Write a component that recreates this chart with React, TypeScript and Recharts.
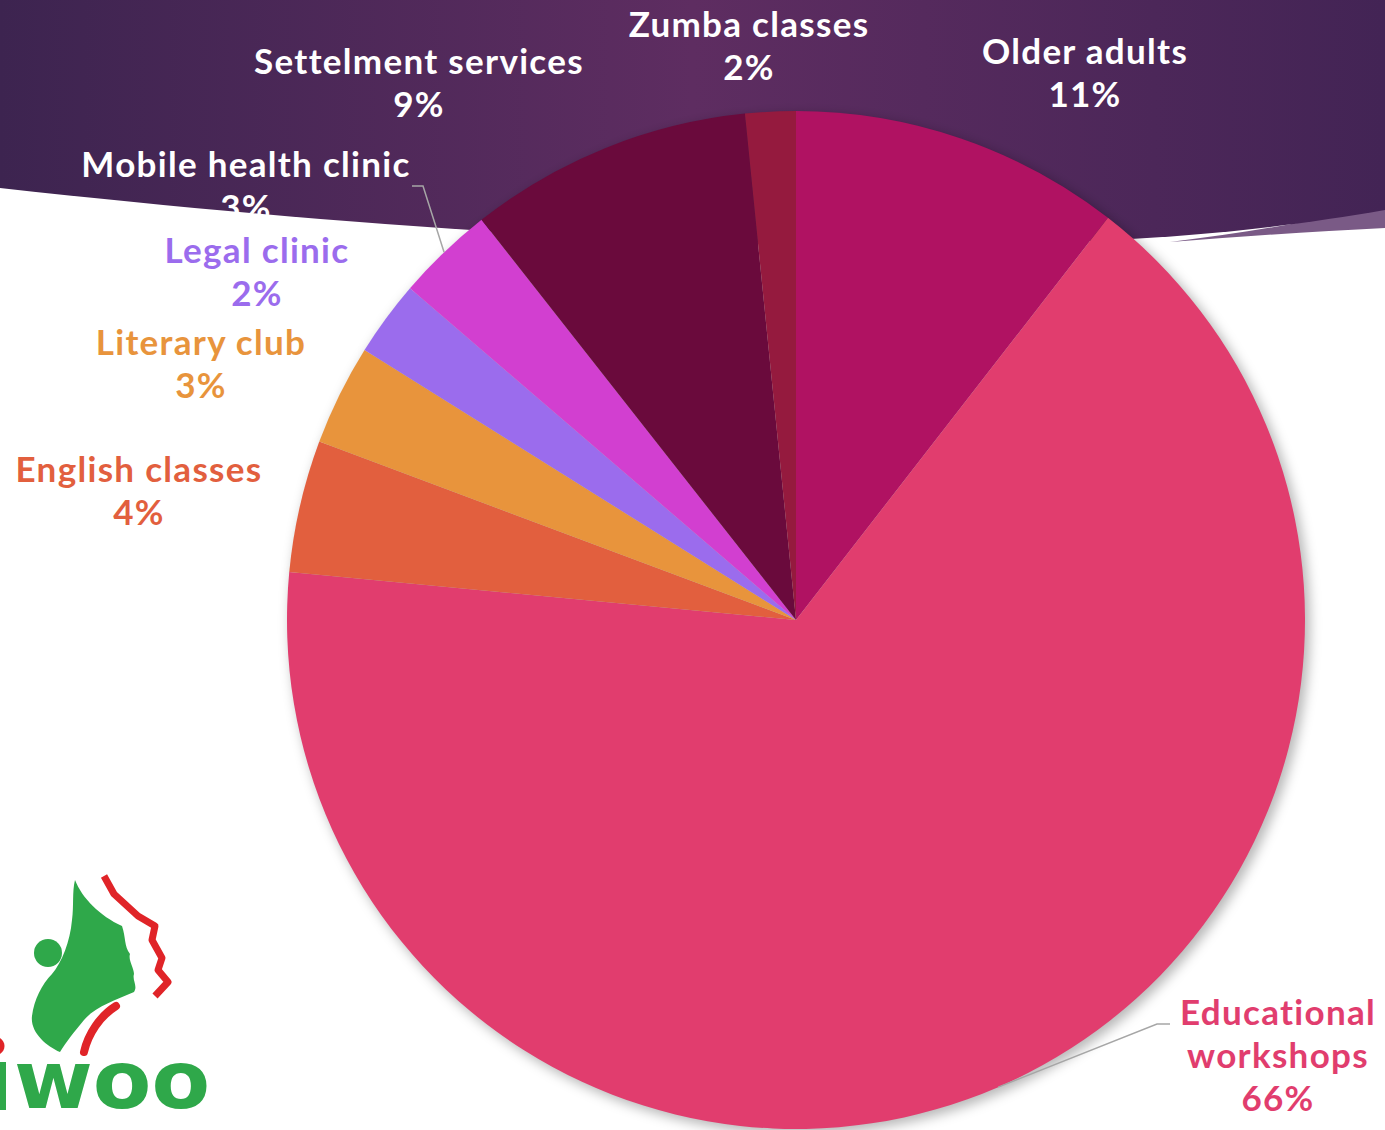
import React from "react"
import { PieChart, Pie, Cell } from "recharts"

const W = 1385
const H = 1130

const programs = [
  "Older adults",
  "Educational workshops",
  "English classes",
  "Literary club",
  "Legal clinic",
  "Mobile health clinic",
  "Settelment services",
  "Zumba classes",
]
const shares = [10.5, 66, 4.2, 3.2, 2.4, 3.1, 9, 1.6]

const sliceColors = ["#b01262", "#e13d6e", "#e25f3e", "#e8943c", "#9b6ced", "#d23fd0", "#6a0a3c", "#951a3e"]
const labelColors = ["#ffffff", "#e13d6e", "#e25f3e", "#e8943c", "#9b6ced", "#ffffff", "#ffffff", "#ffffff"]

// label anchor relative to pie centre (first baseline), optional wrap + leader elbow
const labelLayout = [
  { dx: 289, dy: -556, wrap: false },
  { dx: 482, dy: 405, wrap: true, elbow: [361, 404], end: [374, 404] },
  { dx: -657, dy: -138, wrap: false },
  { dx: -595, dy: -265, wrap: false },
  { dx: -539, dy: -357, wrap: false },
  { dx: -550, dy: -443, wrap: false, elbow: [-373, -434], end: [-384, -434] },
  { dx: -377, dy: -546, wrap: false },
  { dx: -47, dy: -583, wrap: false },
]

const data = programs.map((name, i) => ({ name, value: shares[i] }))

const FONT = "Lato, 'Open Sans', sans-serif"
const LINE = 43
const RAD = Math.PI / 180

const renderLabel = (props: any) => {
  const { cx, cy, midAngle, outerRadius, percent, index, name } = props
  const lay = labelLayout[index]
  const lines = lay.wrap ? name.split(" ") : [name]
  lines.push(`${Math.round(percent * 100)}%`)
  const x = cx + lay.dx
  const y = cy + lay.dy
  let leader = null
  if (lay.elbow) {
    const ex = cx + outerRadius * Math.cos(-midAngle * RAD)
    const ey = cy + outerRadius * Math.sin(-midAngle * RAD)
    leader = (
      <polyline
        points={`${ex},${ey} ${cx + lay.elbow[0]},${cy + lay.elbow[1]} ${cx + lay.end[0]},${cy + lay.end[1]}`}
        fill="none"
        stroke="#a6a6a6"
        strokeWidth={1.5}
      />
    )
  }
  return (
    <g key={`lbl-${index}`}>
      {leader}
      <text
        x={x}
        y={y}
        textAnchor="middle"
        fill={labelColors[index]}
        fontFamily={FONT}
        fontWeight={700}
        fontSize={35}
        letterSpacing={1.3}
      >
        {lines.map((t: string, i: number) => (
          <tspan key={i} x={x} dy={i === 0 ? 0 : LINE}>
            {t}
          </tspan>
        ))}
      </text>
    </g>
  )
}

function Banner() {
  return (
    <svg width={W} height={H} style={{ position: "absolute", left: 0, top: 0 }}>
      <defs>
        <linearGradient id="bannerGrad" x1="0" y1="0" x2="1" y2="0">
          <stop offset="0" stopColor="#3d2450" />
          <stop offset="0.5" stopColor="#5e2d61" />
          <stop offset="1" stopColor="#432455" />
        </linearGradient>
        <filter id="pieShadow" x="-20%" y="-20%" width="140%" height="140%">
          <feGaussianBlur stdDeviation="6" />
        </filter>
      </defs>
      <rect width={W} height={H} fill="#ffffff" />
      <path
        d="M1385 206 L1385 228 C1320 231 1250 236 1170 242 C1250 232 1320 220 1385 206 Z"
        fill="#7a5a86"
      />
      <path
        d="M0 0 H1385 V210 C1280 228 1180 240 1000 244 C700 248 400 232 0 188 Z"
        fill="url(#bannerGrad)"
      />
    </svg>
  )
}

function Logo() {
  return (
    <svg width={260} height={280} style={{ position: "absolute", left: 0, top: 850 }}>
      <path
        d="M75 30 C82 48 100 66 122 76 C126 88 124 96 130 104 C128 110 134 118 134 124 C132 130 138 136 134 142 C116 150 96 156 84 170 C74 182 66 192 60 202 C46 196 30 182 32 166 C34 150 42 134 52 124 C62 112 70 92 72 70 C74 56 72 42 75 30 Z"
        fill="#2fa84a"
      />
      <circle cx={48} cy={103} r={14} fill="#2fa84a" />
      <path
        d="M104 26 L114 44 L138 66 L155 76 L152 90 L162 108 L158 120 L168 132 L155 146"
        fill="none"
        stroke="#e02428"
        strokeWidth={7}
        strokeLinejoin="round"
      />
      <path d="M116 156 C100 166 88 184 84 202" fill="none" stroke="#e02428" strokeWidth={8} strokeLinecap="round" />
      <path d="M0 188 C6 192 6 200 0 204 Z" fill="#e02428" />
      <rect x={0} y={212} width={6} height={48} fill="#2fa84a" />
      <text
        x={14}
        y={258}
        fill="#2fa84a"
        fontFamily="'DejaVu Sans', sans-serif"
        fontWeight={900}
        fontSize={80}
        textLength={196}
        lengthAdjust="spacingAndGlyphs"
      >
        woo
      </text>
    </svg>
  )
}

export default function App() {
  return (
    <div style={{ position: "absolute", left: 0, top: 0, width: W, height: H, overflow: "hidden", background: "#fff" }}>
      <Banner />
      <Logo />
      <div style={{ position: "absolute", left: 0, top: 0 }}>
        <PieChart width={W} height={H} margin={{ top: 0, right: 0, bottom: 0, left: 0 }}>
          <Pie
            data={data}
            dataKey="value"
            nameKey="name"
            cx={800}
            cy={624}
            outerRadius={510}
            startAngle={90}
            endAngle={-270}
            stroke="none"
            isAnimationActive={false}
            legendType="none"
          >
            {data.map((_, i) => (
              <Cell key={i} fill="#000000" fillOpacity={0.28} filter="url(#pieShadow)" />
            ))}
          </Pie>
          <Pie
            data={data}
            dataKey="value"
            nameKey="name"
            cx={796}
            cy={620}
            outerRadius={509}
            startAngle={90}
            endAngle={-270}
            stroke="none"
            isAnimationActive={false}
            label={renderLabel}
            labelLine={false}
          >
            {data.map((_, i) => (
              <Cell key={i} fill={sliceColors[i]} />
            ))}
          </Pie>
        </PieChart>
      </div>
    </div>
  )
}
